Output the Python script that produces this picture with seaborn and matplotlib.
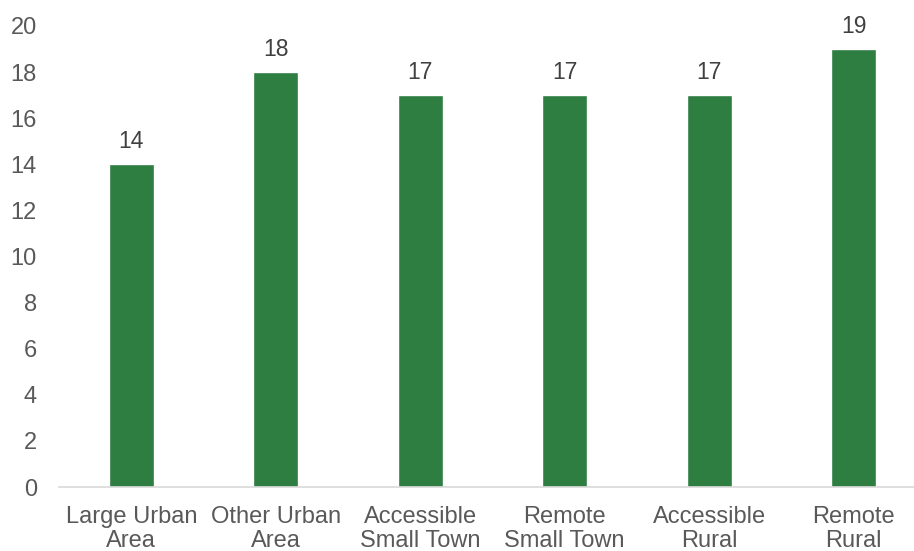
import matplotlib
matplotlib.use("Agg")
import matplotlib.pyplot as plt
import seaborn as sns
import pandas as pd

categories = ["Large Urban\nArea", "Other Urban\nArea", "Accessible\nSmall Town",
              "Remote\nSmall Town", "Accessible\nRural", "Remote\nRural"]
values = [14, 18, 17, 17, 17, 19]

sns.set_style("white")
plt.rcParams['font.family'] = ['Liberation Sans', 'DejaVu Sans']

df = pd.DataFrame({"cat": categories, "val": values})

fig = plt.figure(figsize=(9.14, 5.51), dpi=100)
ax = fig.add_axes([59 / 914, 1 - 487 / 551, 867 / 914, 461 / 551])
sns.barplot(data=df, x="cat", y="val", color="#2E7D41", saturation=1, width=0.31, ax=ax)

for i, v in enumerate(values):
    ax.text(i, v + 0.5, str(v), ha="center", va="bottom", fontsize=16.5, color="#404040")

ax.set_ylim(0, 20)
ax.set_xlim(-0.5, 5.5)
ax.set_yticks(range(0, 21, 2))
ax.set_xlabel("")
ax.set_ylabel("")
ax.tick_params(axis="both", length=0, labelsize=17, labelcolor="#595959")
ax.tick_params(axis="x", pad=14)
ax.tick_params(axis="y", pad=16)
for s in ["top", "right", "left"]:
    ax.spines[s].set_visible(False)
ax.spines["bottom"].set_color("#D9D9D9")
ax.spines["bottom"].set_linewidth(1.2)
for lbl in ax.get_xticklabels():
    lbl.set_linespacing(1.12)

fig.savefig("out.png", dpi=100)
